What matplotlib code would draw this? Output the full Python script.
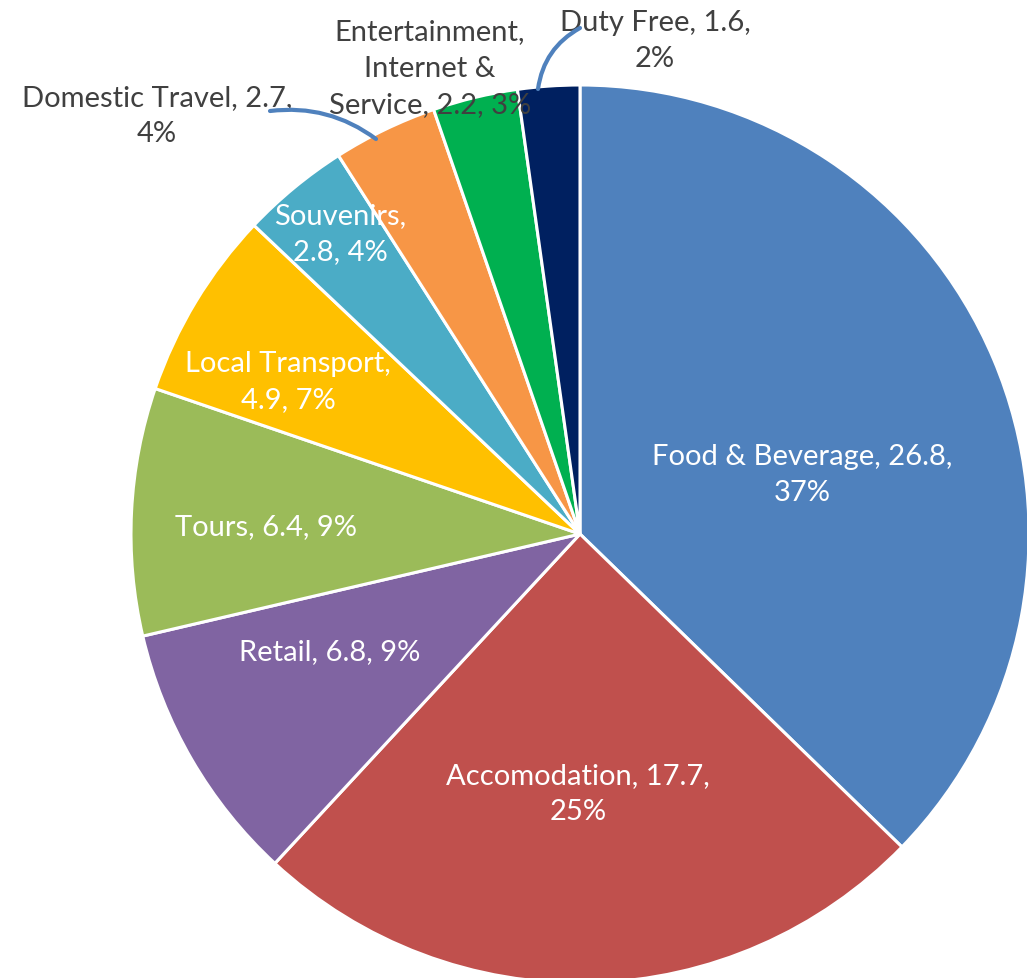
import matplotlib
matplotlib.use("Agg")
import matplotlib.pyplot as plt

categories = ["Food & Beverage", "Accomodation", "Retail", "Tours", "Local Transport",
              "Souvenirs", "Domestic Travel", "Entertainment, Internet & Service", "Duty Free"]
values = [26.8, 17.7, 6.8, 6.4, 4.9, 2.8, 2.7, 2.2, 1.6]
colors = ["#4F81BD", "#C0504D", "#8064A2", "#9BBB59", "#FFC000",
          "#4BACC6", "#F79646", "#00B050", "#002060"]

W, H = 1027, 979
fig = plt.figure(figsize=(W / 100, H / 100), dpi=100)
ax = fig.add_axes([0, 0, 1, 1])

cx, cy, r = 580, H - 535, 449
ax.pie(values, colors=colors, startangle=90, counterclock=False,
       center=(cx, cy), radius=r,
       wedgeprops=dict(edgecolor="white", linewidth=2.2))
ax.set_xlim(0, W)
ax.set_ylim(0, H)
ax.set_aspect("auto")
ax.axis("off")

total = sum(values)
pct = [round(v / total * 100) for v in values]

# label text (line breaks as wrapped in the chart)
texts = [
    f"Food & Beverage, {values[0]},\n{pct[0]}%",
    f"Accomodation, {values[1]},\n{pct[1]}%",
    f"Retail, {values[2]}, {pct[2]}%",
    f"Tours, {values[3]}, {pct[3]}%",
    f"Local Transport,\n{values[4]}, {pct[4]}%",
    f"Souvenirs,\n{values[5]}, {pct[5]}%",
    f"Domestic Travel, {values[6]},\n{pct[6]}%",
    f"Entertainment,\nInternet &\nService, {values[7]}, {pct[7]}%",
    f"Duty Free, {values[8]},\n{pct[8]}%",
]
# label centres in pixel coordinates measured from the top-left
label_pos = [(802, 475), (578, 794), (330, 652), (266, 527), (288, 382),
             (340, 234), (157, 116), (430, 69), (655, 41)]
inside = [True, True, True, True, True, True, False, False, False]

font = dict(family="Lato", fontsize=21)
for t, (x, y), ins in zip(texts, label_pos, inside):
    ax.text(x, H - y, t, ha="center", va="center", multialignment="center",
            color="white" if ins else "#404040", linespacing=1.5, **font)

# leader lines for the small outer labels
line_kw = dict(arrowstyle="-", color="#4F81BD", lw=3, shrinkA=0, shrinkB=0)
ax.annotate("", xy=(376, H - 140), xytext=(270, H - 112),
            arrowprops=dict(connectionstyle="arc3,rad=-0.2", **line_kw))
ax.annotate("", xy=(538, H - 90), xytext=(580, H - 29),
            arrowprops=dict(connectionstyle="arc3,rad=0.25", **line_kw))

fig.savefig("out.png", dpi=100)
